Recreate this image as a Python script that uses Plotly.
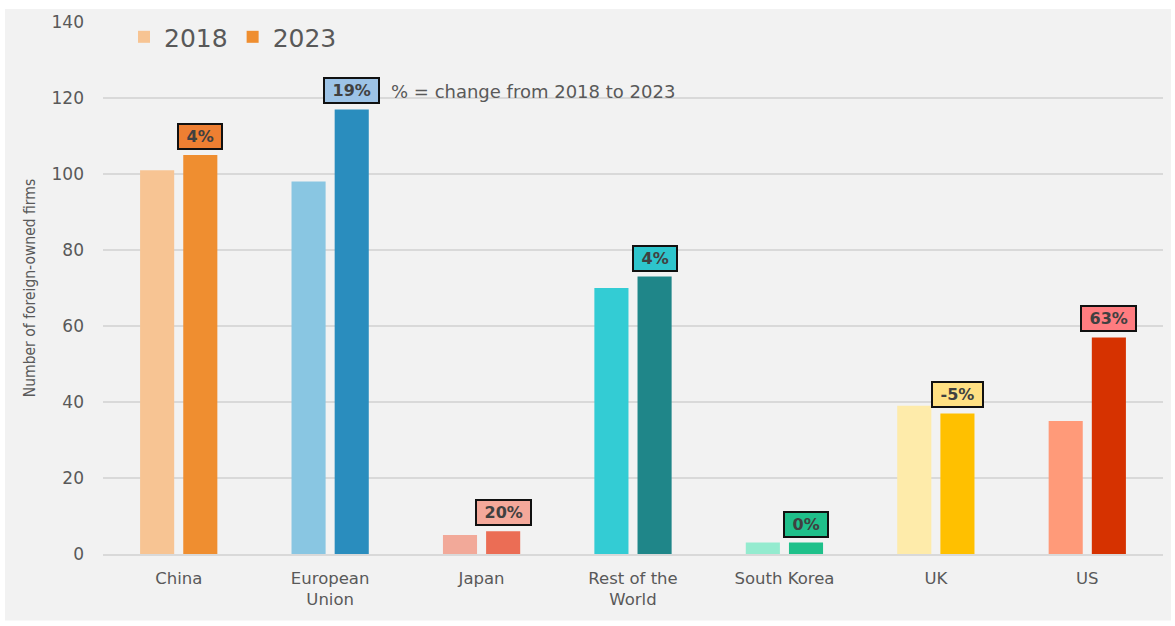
import plotly.graph_objects as go

# Foreign-owned firms by country of ownership
categories = ["China", "European<br>Union", "Japan", "Rest of the<br>World",
              "South Korea", "UK", "US"]
firms_2018 = [101, 98, 5, 70, 3, 39, 35]
firms_2023 = [105, 117, 6, 73, 3, 37, 57]
change_labels = ["4%", "19%", "20%", "4%", "0%", "-5%", "63%"]

colors_2018 = ["#F7C493", "#89C6E2", "#F2A999", "#33CCD4", "#94EBCF", "#FEEBAA", "#FF9A79"]
colors_2023 = ["#EF8E30", "#2A8DBE", "#EB6D55", "#1F8689", "#1FC08A", "#FFC000", "#D63200"]
box_colors = ["#EE7F32", "#9DC3E6", "#F4A89A", "#2EC5CC", "#1FBF8A", "#FFE083", "#FF7C80"]

W, H = 1175, 626
L, R, T, B = 103, 12, 18, 72
PW, PH = W - L - R, H - T - B

def px_x(p):
    return (p - L) / PW

def px_y(p):
    return 1 - (p - T) / PH

fig = go.Figure()
fig.add_trace(go.Bar(
    x=categories, y=firms_2018, name="2018",
    marker=dict(color=colors_2018, line=dict(width=0)),
))
fig.add_trace(go.Bar(
    x=categories, y=firms_2023, name="2023",
    marker=dict(color=colors_2023, line=dict(width=0)),
))

# percentage change boxes above the 2023 bars
NB = "\u00a0"
for cat, val, lab, bc in zip(categories, firms_2023, change_labels, box_colors):
    fig.add_annotation(
        x=cat, y=val, xref="x", yref="y", text=f"<b>{NB}{lab}{NB}</b>",
        showarrow=False, xshift=21.5, yanchor="bottom", yshift=5,
        font=dict(family="DejaVu Sans", size=16, color="#404040"),
        bgcolor=bc, bordercolor="#111111", borderwidth=2, borderpad=2,
    )

fig.add_annotation(
    x=px_x(389), y=px_y(88), xref="paper", yref="paper",
    xanchor="left", yanchor="middle", showarrow=False,
    text="% = change from 2018 to 2023",
    font=dict(family="DejaVu Sans", size=18, color="#595959"),
)

# chart area background
fig.add_shape(
    type="rect", xref="paper", yref="paper", layer="below",
    x0=px_x(5), x1=px_x(1171), y0=px_y(621), y1=px_y(5),
    fillcolor="#F2F2F2", line=dict(width=0),
)

fig.update_layout(
    width=W, height=H,
    margin=dict(l=L, r=R, t=T, b=B),
    paper_bgcolor="white",
    plot_bgcolor="rgba(0,0,0,0)",
    barmode="group", bargap=0.43, bargroupgap=0.21,
    font=dict(family="DejaVu Sans", color="#595959"),
    legend=dict(
        orientation="h", x=px_x(124), y=px_y(10), xanchor="left", yanchor="top",
        font=dict(size=25, color="#595959"), bgcolor="rgba(0,0,0,0)",
        itemwidth=30, traceorder="normal",
    ),
    xaxis=dict(
        showgrid=False, showline=True, linecolor="#D9D9D9", linewidth=2,
        ticks="", tickfont=dict(size=16.5, color="#595959"),
        ticklabelstandoff=8,
    ),
    yaxis=dict(
        range=[0, 140], dtick=20, showgrid=True, gridcolor="#D9D9D9", gridwidth=1.5,
        zeroline=False, showline=False, ticks="",
        tickfont=dict(size=17, color="#595959"), ticklabelstandoff=18,
        title=dict(
            text="Number of foreign-owned firms", standoff=12,
            font=dict(family="DejaVu Sans Condensed, Liberation Sans Narrow, Roboto Condensed, Noto Sans",
                      size=15.5, color="#595959"),
        ),
    ),
)

fig.write_html("out.html")
